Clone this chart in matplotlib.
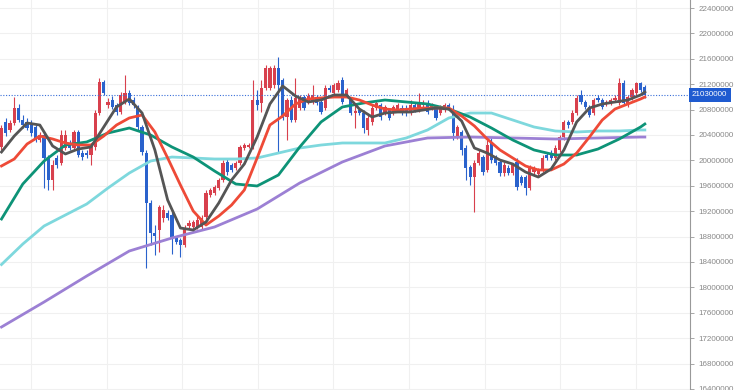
import numpy as np
import matplotlib.pyplot as plt

plt.rcParams['font.family'] = ['Liberation Sans', 'DejaVu Sans']

# daily candles, prices in thousands (KRW)
opens = [20211, 20605, 20479, 20589, 20825, 20636, 20605, 20557, 20526, 20321,
         20400, 20053, 19691, 20038, 19959, 20195, 20274, 20195, 20447, 20116,
         20116, 20085, 20211, 20746, 21235, 20872, 20951, 20872, 20762, 20920,
         21061, 20951, 20841, 20526, 20116, 19329, 18856, 18904, 19093, 19171,
         19140, 18778, 18746, 18667, 18967, 18951, 18951, 18951, 19108, 19455,
         19486, 19565, 19691, 19975, 19927, 19880, 19959, 20195, 20211, 20211,
         20951, 20904, 21140, 21140, 21187, 21455, 21266, 20683, 20951, 20636,
         20825, 20998, 20920, 20920, 20998, 20920, 20825, 21140, 21061, 21109,
         21266, 21030, 20951, 20746, 20794, 20746, 20479, 20605, 20825, 20872,
         20746, 20794, 20762, 20794, 20825, 20825, 20746, 20872, 20794, 20872,
         20904, 20825, 20841, 20746, 20794, 20872, 20794, 20368, 20447, 20195,
         19896, 19738, 19959, 20053, 19849, 20290, 20038, 19975, 19801, 19880,
         19801, 19975, 19738, 19738, 19565, 19817, 19786, 19849, 20085, 20116,
         20038, 20164, 20368, 20605, 20605, 20746, 21030, 20920, 20841, 20746,
         20983, 20951, 20888, 20904, 20951, 20904, 21219, 20872, 20998, 21061,
         21219, 21156]
closes = [20510, 20431, 20589, 20825, 20636, 20557, 20510, 20431, 20321, 20400,
          20038, 19691, 19927, 19927, 20400, 20400, 20195, 20447, 20085, 20053,
          20085, 20242, 20746, 21235, 21061, 20920, 20841, 20762, 21030, 21061,
          20904, 20872, 20526, 20132, 19329, 18856, 18809, 19266, 19219, 19093,
          18793, 18715, 18667, 18935, 19014, 19030, 19061, 19093, 19486, 19534,
          19581, 19691, 19959, 19817, 19849, 19959, 20211, 20242, 20242, 20951,
          20872, 21140, 21455, 21455, 21455, 21187, 20668, 20951, 20636, 20983,
          20998, 20825, 21014, 21030, 20904, 20762, 21140, 21109, 21187, 21219,
          20920, 21109, 20746, 20778, 20746, 20510, 20668, 20825, 20904, 20683,
          20841, 20668, 20841, 20872, 20746, 20746, 20872, 20794, 20904, 20904,
          20762, 20872, 20668, 20841, 20872, 20825, 20431, 20526, 20164, 19880,
          19738, 19959, 20116, 19817, 20242, 20006, 19959, 19801, 19927, 19801,
          19927, 19581, 19644, 19565, 19880, 19880, 19849, 20038, 20038, 20038,
          20195, 20368, 20605, 20557, 20746, 20983, 20920, 20841, 20715, 20951,
          20951, 20841, 20920, 20951, 20983, 21219, 20904, 20998, 21109, 21219,
          21109, 21030]
highs = [20557, 20668, 20636, 20998, 20888, 20715, 20668, 20636, 20557, 20447,
         20431, 20085, 20006, 20085, 20479, 20479, 20321, 20479, 20479, 20164,
         20164, 20274, 20794, 21298, 21266, 20983, 21014, 20904, 21077, 21345,
         21109, 20998, 20872, 20557, 20164, 19376, 18982, 19297, 19297, 19219,
         19187, 18809, 18778, 18982, 19061, 19061, 19140, 19140, 19534, 19565,
         19612, 19723, 20006, 20038, 19959, 19990, 20242, 20274, 20274, 21266,
         21109, 21266, 21502, 21487, 21502, 21628, 21298, 20983, 21014, 21298,
         21030, 21030, 21061, 21187, 21030, 20951, 21187, 21187, 21219, 21266,
         21313, 21140, 20983, 20872, 20825, 20794, 20715, 20872, 20951, 20904,
         20872, 20825, 20872, 20904, 20872, 20872, 20951, 20904, 21061, 20951,
         20951, 20904, 20872, 20872, 20904, 20904, 20872, 20557, 20479, 20242,
         19927, 20006, 20164, 20085, 20321, 20353, 20085, 20006, 19975, 19927,
         19959, 20038, 19770, 19770, 19927, 19912, 19880, 20085, 20132, 20164,
         20242, 20400, 20636, 20636, 20794, 21030, 21109, 20951, 20872, 20983,
         21030, 20983, 20951, 20983, 21030, 21298, 21266, 21030, 21140, 21235,
         21235, 21187]
lows = [20164, 20384, 20447, 20557, 20605, 20510, 20479, 20384, 20290, 20290,
        19565, 19534, 19534, 19880, 19927, 20164, 20164, 20164, 20053, 20006,
        20038, 19927, 20164, 20715, 21030, 20825, 20809, 20715, 20731, 20888,
        20872, 20825, 20479, 20085, 18305, 18667, 18510, 18557, 19030, 19061,
        18526, 18683, 18478, 18636, 18935, 18919, 18919, 18919, 19077, 19423,
        19455, 19534, 19660, 19770, 19817, 19849, 19927, 20164, 20195, 20179,
        20794, 20762, 21109, 21109, 21140, 20116, 20636, 20321, 20605, 20605,
        20794, 20794, 20888, 20888, 20872, 20731, 20794, 21077, 21030, 21077,
        20888, 20998, 20715, 20510, 20715, 20431, 20400, 20557, 20794, 20636,
        20715, 20636, 20715, 20762, 20715, 20699, 20715, 20762, 20762, 20841,
        20731, 20794, 20636, 20715, 20762, 20794, 20321, 20337, 20085, 19691,
        19612, 19187, 19927, 19770, 19817, 19959, 19927, 19754, 19754, 19770,
        19770, 19534, 19612, 19455, 19534, 19754, 19754, 19817, 20006, 20006,
        20006, 20132, 20321, 20510, 20573, 20715, 20888, 20809, 20683, 20715,
        20920, 20809, 20857, 20872, 20920, 20872, 20872, 20841, 20951, 21030,
        21077, 20983]

# moving averages, in thousands
ma5_idx = list(range(0, 151, 3)) + [151]
ma5 = [20132, 20384, 20589, 20557, 20227, 20101, 20179, 20211, 20526, 20841,
       20967, 20746, 20164, 19376, 18935, 18904, 19030, 19329, 19691, 19943,
       20368, 20888, 21172, 21014, 20920, 20951, 21030, 21030, 20809, 20683,
       20746, 20762, 20762, 20794, 20825, 20809, 20620, 20195, 20116, 20006,
       19943, 19817, 19738, 19864, 20164, 20605, 20825, 20888, 20920, 20951,
       21030, 21077]
ma10 = [19912, 20022, 20258, 20384, 20337, 20274, 20242, 20242, 20384, 20557,
        20668, 20715, 20447, 20038, 19612, 19203, 18982, 19124, 19297, 19534,
        20038, 20557, 20699, 20888, 20967, 20983, 20998, 20998, 20951, 20872,
        20809, 20794, 20809, 20825, 20825, 20825, 20699, 20542, 20337, 20164,
        20038, 19912, 19849, 19849, 19943, 20116, 20368, 20636, 20809, 20888,
        20967, 20998]
ma20_idx = list(range(0, 151, 5)) + [151]
ma20 = [19077, 19628, 19990, 20242, 20290, 20431, 20510, 20400, 20211, 20053,
        19833, 19628, 19597, 19770, 20211, 20605, 20841, 20904, 20951, 20920,
        20888, 20809, 20683, 20510, 20321, 20164, 20085, 20085, 20179, 20337,
        20526, 20573]
ma60 = [18360, 18683, 18967, 19140, 19313, 19565, 19801, 19990, 20053, 20038,
        20022, 20022, 20038, 20116, 20195, 20242, 20274, 20274, 20274, 20353,
        20479, 20668, 20746, 20746, 20636, 20526, 20463, 20447, 20463, 20463,
        20479, 20479]
ma120_idx = list(range(0, 151, 10)) + [151]
ma120 = [17376, 17770, 18179, 18573, 18778, 18951, 19234, 19644, 19975, 20227,
         20353, 20368, 20353, 20337, 20353, 20368, 20368]

last_price = 21030
price_ticks = list(range(16400, 22401, 400))
grid_x = [6.9, 24.65, 42.4, 60.15, 77.9, 95.65, 113.4, 131.15, 148.9]

k = 1000
o = np.array(opens) * k
c = np.array(closes) * k
h = np.array(highs) * k
l = np.array(lows) * k
x = np.arange(len(o))

fig = plt.figure(figsize=(7.35, 3.9), dpi=100)
ax = fig.add_axes([0, 0, 690 / 735, 1])
ax.set_xlim(-0.35, 161.6)
ax.set_ylim(16384000, 22526000)

for gx in grid_x:
    ax.axvline(gx, color='#f0f0f0', lw=0.8, zorder=0)
for t in price_ticks:
    ax.axhline(t * k, color='#f0f0f0', lw=0.8, zorder=0)

up = c >= o
colors = np.where(up, '#d8404d', '#2a62cc')
ax.vlines(x, l, h, colors=colors, lw=0.8, zorder=2)
body = np.maximum(np.abs(c - o), 15000)
ax.bar(x, body, bottom=np.minimum(o, c), width=0.75, color=colors, zorder=3)

ax.axhline(last_price * k, color='#3a6fd8', lw=0.8, ls=(0, (1, 1.5)), zorder=4)

lw = 2.0
ax.plot(ma120_idx, np.array(ma120) * k, color='#9c80d4', lw=lw, zorder=5)
ax.plot(ma20_idx, np.array(ma60) * k, color='#7ed8dd', lw=lw, zorder=5)
ax.plot(ma20_idx, np.array(ma20) * k, color='#0d9377', lw=lw, zorder=6)
ax.plot(ma5_idx, np.array(ma10) * k, color='#ee4a37', lw=lw, zorder=7)
ax.plot(ma5_idx, np.array(ma5) * k, color='#555555', lw=lw, zorder=8)

for s in ['top', 'left', 'bottom']:
    ax.spines[s].set_visible(False)
ax.spines['right'].set_color('#999999')
ax.spines['right'].set_linewidth(0.8)
ax.set_xticks([])
ax.yaxis.tick_right()
ax.set_yticks([t * k for t in price_ticks])
ax.set_yticklabels([str(t * k) for t in price_ticks])
ax.tick_params(axis='y', length=3, width=0.6, color='#999999',
               labelsize=5.8, labelcolor='#888888', pad=3)

ax.text(1.003, last_price * k, str(last_price * k), transform=ax.get_yaxis_transform(),
        ha='left', va='center', fontsize=5.8, color='white', zorder=10,
        bbox=dict(boxstyle='square,pad=0.4', fc='#1f5bd0', ec='none'))

fig.savefig('out.png', dpi=100)
